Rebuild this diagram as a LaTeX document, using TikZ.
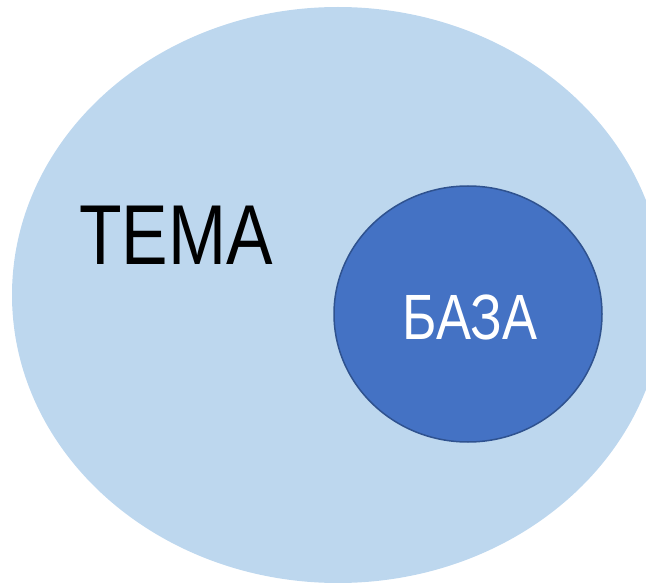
\documentclass[tikz,border=0pt]{standalone}
\usepackage{fontspec}
\setmainfont{Liberation Sans}
\usetikzlibrary{shapes.geometric}
\definecolor{outerblue}{HTML}{BDD7EE}
\definecolor{innerblue}{HTML}{4472C4}
\definecolor{innerline}{HTML}{2F528F}
\begin{document}
\begin{tikzpicture}[x=1pt,y=-1pt,
  bigtext/.style={inner sep=0pt, anchor=base}]
\useasboundingbox (0,0) rectangle (646,583);
\clip (0,0) rectangle (646,583);
\fill[outerblue] (338,295) ellipse [x radius=326, y radius=288];
\node[draw=innerline, line width=1.5pt, fill=innerblue, ellipse, minimum width=268pt, minimum height=256pt, inner sep=0pt] (base) at (468,314) {};
\node[bigtext, text=black] (tema) at (176,265) {\scalebox{0.82}[1]{\fontsize{85}{85}\selectfont ТЕМА}};
\node[bigtext, text=white] (baza) at (470,339) {\scalebox{0.82}[1]{\fontsize{64}{64}\selectfont БАЗА}};
\end{tikzpicture}
\end{document}
